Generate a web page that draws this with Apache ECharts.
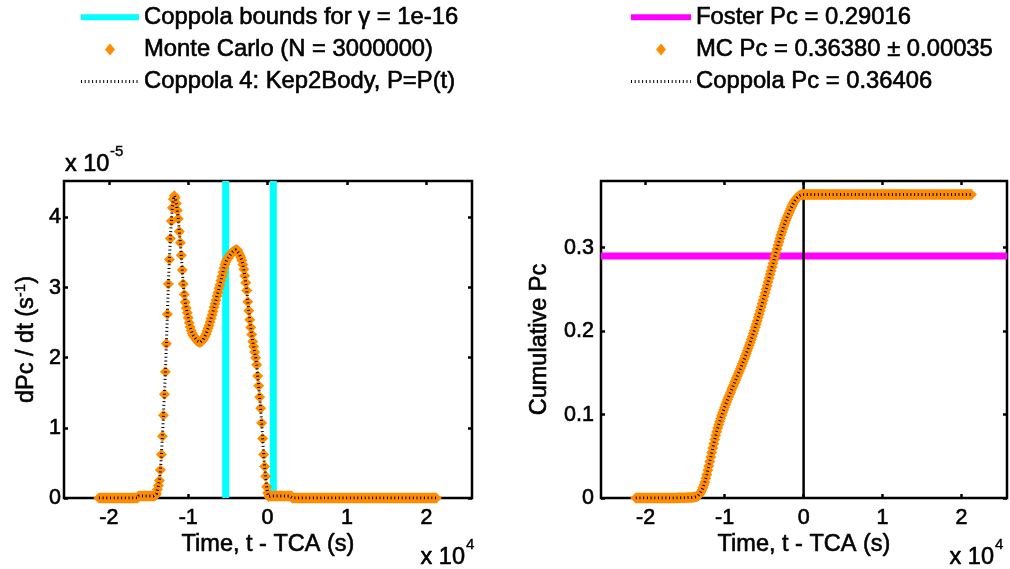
<!DOCTYPE html>
<html>
<head>
<meta charset="utf-8">
<title>Collision probability rate and cumulative Pc</title>
<script src="https://cdn.jsdelivr.net/npm/echarts@6/dist/echarts.min.js"></script>
<style>
  html, body { margin: 0; padding: 0; background: #fff; }
  #chart { width: 1010px; height: 569px; }
</style>
</head>
<body>
<div id="chart"></div>
<script>
// Time relative to TCA (s), one sample every 125 s
const timeSec = [
  -21250,-21125,-21000,-20875,-20750,-20625,-20500,-20375,-20250,-20125,
  -20000,-19875,-19750,-19625,-19500,-19375,-19250,-19125,-19000,-18875,
  -18750,-18625,-18500,-18375,-18250,-18125,-18000,-17875,-17750,-17625,
  -17500,-17375,-17250,-17125,-17000,-16875,-16750,-16625,-16500,-16375,
  -16250,-16125,-16000,-15875,-15750,-15625,-15500,-15375,-15250,-15125,
  -15000,-14875,-14750,-14625,-14500,-14375,-14250,-14125,-14000,-13875,
  -13750,-13625,-13500,-13375,-13250,-13125,-13000,-12875,-12750,-12625,
  -12500,-12375,-12250,-12125,-12000,-11875,-11750,-11625,-11500,-11375,
  -11250,-11125,-11000,-10875,-10750,-10625,-10500,-10375,-10250,-10125,
  -10000,-9875,-9750,-9625,-9500,-9375,-9250,-9125,-9000,-8875,
  -8750,-8625,-8500,-8375,-8250,-8125,-8000,-7875,-7750,-7625,
  -7500,-7375,-7250,-7125,-7000,-6875,-6750,-6625,-6500,-6375,
  -6250,-6125,-6000,-5875,-5750,-5625,-5500,-5375,-5250,-5125,
  -5000,-4875,-4750,-4625,-4500,-4375,-4250,-4125,-4000,-3875,
  -3750,-3625,-3500,-3375,-3250,-3125,-3000,-2875,-2750,-2625,
  -2500,-2375,-2250,-2125,-2000,-1875,-1750,-1625,-1500,-1375,
  -1250,-1125,-1000,-875,-750,-625,-500,-375,-250,-125,
  0,125,250,375,500,625,750,875,1000,1125,
  1250,1375,1500,1625,1750,1875,2000,2125,2250,2375,
  2500,2625,2750,2875,3000,3125,3250,3375,3500,3625,
  3750,3875,4000,4125,4250,4375,4500,4625,4750,4875,
  5000,5125,5250,5375,5500,5625,5750,5875,6000,6125,
  6250,6375,6500,6625,6750,6875,7000,7125,7250,7375,
  7500,7625,7750,7875,8000,8125,8250,8375,8500,8625,
  8750,8875,9000,9125,9250,9375,9500,9625,9750,9875,
  10000,10125,10250,10375,10500,10625,10750,10875,11000,11125,
  11250,11375,11500,11625,11750,11875,12000,12125,12250,12375,
  12500,12625,12750,12875,13000,13125,13250,13375,13500,13625,
  13750,13875,14000,14125,14250,14375,14500,14625,14750,14875,
  15000,15125,15250,15375,15500,15625,15750,15875,16000,16125,
  16250,16375,16500,16625,16750,16875,17000,17125,17250,17375,
  17500,17625,17750,17875,18000,18125,18250,18375,18500,18625,
  18750,18875,19000,19125,19250,19375,19500,19625,19750,19875,
  20000,20125,20250,20375,20500,20625,20750,20875,21000,21125,
  21250
];

// dPc/dt in units of 1e-5 per second
const dPcDt = [
  0,0,0,0,0,0,0,0,0,0,
  0,0,0,0,0,0,0,0,0,0,
  0,0,0,0,0,0,0,0,0,0,
  0,0,0,0,0,0,0,0,0,0,
  0.03,0.03,0.03,0.03,0.03,0.03,0.03,0.03,0.03,0.03,
  0.03,0.03,0.03,0.03,0.03,0.03,0.03,0.04,0.06,0.12,
  0.18,0.25,0.40,0.62,0.88,1.18,1.48,1.80,2.20,2.62,
  3.05,3.40,3.70,3.95,4.14,4.26,4.31,4.28,4.20,4.10,
  3.98,3.80,3.64,3.46,3.25,3.05,2.90,2.79,2.71,2.64,
  2.57,2.50,2.44,2.39,2.35,2.32,2.30,2.28,2.26,2.24,
  2.23,2.22,2.22,2.23,2.24,2.26,2.29,2.31,2.34,2.38,
  2.42,2.46,2.51,2.56,2.61,2.66,2.72,2.77,2.82,2.88,
  2.93,2.99,3.04,3.10,3.16,3.22,3.28,3.33,3.37,3.40,
  3.42,3.44,3.46,3.48,3.50,3.51,3.52,3.53,3.54,3.54,
  3.53,3.49,3.46,3.43,3.39,3.33,3.26,3.17,3.07,2.96,
  2.80,2.67,2.54,2.43,2.33,2.23,2.16,2.08,2.00,1.90,
  1.74,1.60,1.44,1.28,1.07,0.85,0.62,0.45,0.31,0.16,
  0.07,0.02,0.03,0.03,0.03,0.03,0.03,0.03,0.03,0.03,
  0.03,0.03,0.03,0.03,0.03,0.03,0.03,0.03,0.03,0.03,
  0.03,0.03,0.03,0.03,0.03,0,0,0,0,0,
  0,0,0,0,0,0,0,0,0,0,
  0,0,0,0,0,0,0,0,0,0,
  0,0,0,0,0,0,0,0,0,0,
  0,0,0,0,0,0,0,0,0,0,
  0,0,0,0,0,0,0,0,0,0,
  0,0,0,0,0,0,0,0,0,0,
  0,0,0,0,0,0,0,0,0,0,
  0,0,0,0,0,0,0,0,0,0,
  0,0,0,0,0,0,0,0,0,0,
  0,0,0,0,0,0,0,0,0,0,
  0,0,0,0,0,0,0,0,0,0,
  0,0,0,0,0,0,0,0,0,0,
  0,0,0,0,0,0,0,0,0,0,
  0,0,0,0,0,0,0,0,0,0,
  0
];

// Cumulative collision probability
const cumPc = [
  0,0,0,0,0,0,0,0,0,0,
  0,0,0,0,0,0,0,0,0,0,
  0,0,0,0,0,0,0,0,0,0,
  0,0,0,0,0,0,0,0,0,0,
  0,0.0001,0.0001,0.0002,0.0002,0.0002,0.0003,0.0003,0.0003,0.0004,
  0.0004,0.0004,0.0005,0.0005,0.0006,0.0006,0.0006,0.0007,0.0008,0.0009,
  0.0011,0.0014,0.0019,0.0027,0.0038,0.0053,0.0072,0.0094,0.0122,0.0155,
  0.0193,0.0236,0.0283,0.0332,0.0385,0.0438,0.0492,0.0546,0.0599,0.0651,
  0.0701,0.0749,0.0794,0.0838,0.0879,0.0917,0.0954,0.0989,0.1023,0.1056,
  0.1088,0.1120,0.1150,0.1180,0.1210,0.1239,0.1268,0.1297,0.1325,0.1353,
  0.1382,0.1409,0.1437,0.1465,0.1494,0.1522,0.1551,0.1580,0.1609,0.1639,
  0.1670,0.1701,0.1732,0.1764,0.1797,0.1831,0.1865,0.1900,0.1935,0.1972,
  0.2008,0.2046,0.2084,0.2123,0.2163,0.2203,0.2245,0.2287,0.2329,0.2372,
  0.2415,0.2458,0.2502,0.2545,0.2589,0.2634,0.2678,0.2722,0.2767,0.2811,
  0.2856,0.2900,0.2943,0.2986,0.3029,0.3071,0.3112,0.3152,0.3190,0.3228,
  0.3263,0.3296,0.3328,0.3359,0.3388,0.3416,0.3444,0.3470,0.3495,0.3519,
  0.3541,0.3561,0.3579,0.3595,0.3608,0.3619,0.3627,0.3633,0.3637,0.3638,
  0.3638,0.3638,0.3638,0.3638,0.3638,0.3638,0.3638,0.3638,0.3638,0.3638,
  0.3638,0.3638,0.3638,0.3638,0.3638,0.3638,0.3638,0.3638,0.3638,0.3638,
  0.3638,0.3638,0.3638,0.3638,0.3638,0.3638,0.3638,0.3638,0.3638,0.3638,
  0.3638,0.3638,0.3638,0.3638,0.3638,0.3638,0.3638,0.3638,0.3638,0.3638,
  0.3638,0.3638,0.3638,0.3638,0.3638,0.3638,0.3638,0.3638,0.3638,0.3638,
  0.3638,0.3638,0.3638,0.3638,0.3638,0.3638,0.3638,0.3638,0.3638,0.3638,
  0.3638,0.3638,0.3638,0.3638,0.3638,0.3638,0.3638,0.3638,0.3638,0.3638,
  0.3638,0.3638,0.3638,0.3638,0.3638,0.3638,0.3638,0.3638,0.3638,0.3638,
  0.3638,0.3638,0.3638,0.3638,0.3638,0.3638,0.3638,0.3638,0.3638,0.3638,
  0.3638,0.3638,0.3638,0.3638,0.3638,0.3638,0.3638,0.3638,0.3638,0.3638,
  0.3638,0.3638,0.3638,0.3638,0.3638,0.3638,0.3638,0.3638,0.3638,0.3638,
  0.3638,0.3638,0.3638,0.3638,0.3638,0.3638,0.3638,0.3638,0.3638,0.3638,
  0.3638,0.3638,0.3638,0.3638,0.3638,0.3638,0.3638,0.3638,0.3638,0.3638,
  0.3638,0.3638,0.3638,0.3638,0.3638,0.3638,0.3638,0.3638,0.3638,0.3638,
  0.3638,0.3638,0.3638,0.3638,0.3638,0.3638,0.3638,0.3638,0.3638,0.3638,
  0.3638,0.3638,0.3638,0.3638,0.3638,0.3638,0.3638,0.3638,0.3638,0.3638,
  0.3638,0.3638,0.3638,0.3638,0.3638,0.3638,0.3638,0.3638,0.3638,0.3638,
  0.3638
];

// Coppola integration bounds (s) and the Foster probability
const boundTimes = [-5280, 720];
const fosterPc = 0.29016;

// Tick positions and labels
const timeTicks = [-20000, -10000, 0, 10000, 20000];
const timeTickLabels = ['-2', '-1', '0', '1', '2'];
const rateTicks = [0, 1, 2, 3, 4];
const rateTickLabels = ['0', '1', '2', '3', '4'];
const cumTicks = [0, 0.1, 0.2, 0.3];
const cumTickLabels = ['0', '0.1', '0.2', '0.3'];

// Legend entries
const leftNames = ['Coppola bounds for \u03b3 = 1e-16', 'Monte Carlo (N = 3000000)', 'Coppola 4: Kep2Body, P=P(t)'];
const rightNames = ['Foster Pc = 0.29016', 'MC Pc = 0.36380 \u00b1 0.00035', 'Coppola Pc = 0.36406'];

const FONT = '"Liberation Sans", Arial, Helvetica, sans-serif';
const ORANGE = '#FF8C00';
const X_MIN = -25650, X_MAX = 25750;
const RATE_MAX = 4.52, CUM_MAX = 0.38;
const TICK_FONT = 21.5, TITLE_FONT = 23.5, LEGEND_FONT = 23.8;
const DIAMOND_ICON = 'path://M5 0L10 6L5 12L0 6Z';
const MARKER_SIZE = [11, 11];
const DOTTED = { color: '#000', width: 3, type: [1, 2.7] };
// slight stroke so the lettering carries the same weight as the plot frame
const INK = { color: '#000', textBorderColor: '#000', textBorderWidth: 0.6 };

const rateData = timeSec.map((t, i) => [t, dPcDt[i]]);
const cumData = timeSec.map((t, i) => [t, cumPc[i]]);

const tickStyle = { inside: true, length: 4, lineStyle: { color: '#000', width: 2.5 } };
const hiddenLine = { show: false, onZero: false };

function ink(style) { return Object.assign({ fontFamily: FONT }, INK, style); }

function timeAxes(gridIndex) {
  return [
    {
      type: 'value', gridIndex, position: 'bottom', min: X_MIN, max: X_MAX,
      axisLine: hiddenLine, splitLine: { show: false },
      axisTick: Object.assign({ customValues: timeTicks }, tickStyle),
      axisLabel: ink({
        customValues: timeTicks,
        formatter: v => timeTickLabels[timeTicks.indexOf(v)],
        fontSize: TICK_FONT, margin: 9
      }),
      name: 'Time, t - TCA (s)', nameLocation: 'middle', nameGap: 35, nameMoveOverlap: false,
      nameTextStyle: ink({ fontSize: TITLE_FONT })
    },
    {
      type: 'value', gridIndex, position: 'top', min: X_MIN, max: X_MAX,
      axisLine: hiddenLine, splitLine: { show: false }, axisLabel: { show: false },
      axisTick: Object.assign({ customValues: timeTicks }, tickStyle)
    }
  ];
}

function valueAxes(gridIndex, max, ticks, labels, labelMargin, name, nameGap, rich) {
  const nameStyle = ink({ fontSize: TITLE_FONT });
  if (rich) nameStyle.rich = rich;
  return [
    {
      type: 'value', gridIndex, position: 'left', min: 0, max,
      axisLine: hiddenLine, splitLine: { show: false },
      axisTick: Object.assign({ customValues: ticks }, tickStyle),
      axisLabel: ink({
        customValues: ticks,
        formatter: v => labels[ticks.indexOf(v)],
        fontSize: TICK_FONT, margin: labelMargin
      }),
      name, nameLocation: 'middle', nameGap, nameRotate: 90, nameMoveOverlap: false,
      nameTextStyle: nameStyle
    },
    {
      type: 'value', gridIndex, position: 'right', min: 0, max,
      axisLine: hiddenLine, splitLine: { show: false }, axisLabel: { show: false },
      axisTick: Object.assign({ customValues: ticks }, tickStyle)
    }
  ];
}

const supRich = {
  b: ink({ fontSize: TITLE_FONT, lineHeight: 26, verticalAlign: 'bottom' }),
  sup: ink({ fontSize: 15, lineHeight: 15, verticalAlign: 'top', padding: [0, 0, 12, 0], textBorderWidth: 0.4 })
};

function legendBlock(left, iconWidth, names, lineWidth) {
  return {
    left, top: 5, orient: 'vertical', padding: 0,
    itemWidth: iconWidth, itemHeight: 12, itemGap: 7.5, selectedMode: false,
    textStyle: ink({ fontSize: LEGEND_FONT, lineHeight: 24 }),
    data: [
      { name: names[0], lineStyle: { width: lineWidth }, itemStyle: { opacity: 0 } },
      { name: names[1], icon: DIAMOND_ICON },
      { name: names[2], lineStyle: { width: 3 }, itemStyle: { opacity: 0 } }
    ]
  };
}

function label(text, x, y, size, align) {
  return {
    type: 'text', x, y,
    style: { text, fontSize: size, fontFamily: FONT, fill: '#000', stroke: '#000',
             lineWidth: size > 16 ? 0.6 : 0.4, verticalAlign: 'middle', align }
  };
}

const chart = echarts.init(document.getElementById('chart'), null, { renderer: 'canvas' });

chart.setOption({
  animation: false,
  backgroundColor: '#fff',
  textStyle: { fontFamily: FONT, color: '#000' },
  grid: [
    { left: 64, top: 181, width: 408, height: 317, show: true, borderColor: '#000', borderWidth: 2.5,
      backgroundColor: 'transparent', containLabel: false, outerBoundsMode: 'none' },
    { left: 601, top: 181, width: 406, height: 317, show: true, borderColor: '#000', borderWidth: 2.5,
      backgroundColor: 'transparent', containLabel: false, outerBoundsMode: 'none' }
  ],
  xAxis: [].concat(timeAxes(0), timeAxes(1)),
  yAxis: [].concat(
    valueAxes(0, RATE_MAX, rateTicks, rateTickLabels, 3, '{b|dPc / dt (s}{sup|-1}{b|)}', 25, supRich),
    valueAxes(1, CUM_MAX, cumTicks, cumTickLabels, 7, 'Cumulative Pc', 49, null)
  ),
  legend: [
    legendBlock(78, 58, leftNames, 6),
    legendBlock(628, 60, rightNames, 6)
  ],
  graphic: [
    label('x 10', 65, 165, TITLE_FONT, 'left'),
    label('-5', 110, 152, 15, 'left'),
    label('x 10', 465, 558, TITLE_FONT, 'right'),
    label('4', 466, 545, 15, 'left'),
    label('x 10', 994, 558, TITLE_FONT, 'right'),
    label('4', 995, 545, 15, 'left')
  ],
  series: [
    // Coppola integration bounds
    ...boundTimes.map(t => ({
      type: 'line', name: leftNames[0], xAxisIndex: 0, yAxisIndex: 0,
      data: [[t, 0], [t, RATE_MAX]], symbol: 'none', silent: true, z: 2,
      lineStyle: { color: '#00FFFF', width: 7 }, itemStyle: { color: '#00FFFF' }
    })),
    {
      type: 'scatter', name: leftNames[1], xAxisIndex: 0, yAxisIndex: 0,
      data: rateData, symbol: 'diamond', symbolSize: MARKER_SIZE, silent: true, z: 3,
      itemStyle: { color: ORANGE, opacity: 1 }
    },
    {
      type: 'line', name: leftNames[2], xAxisIndex: 0, yAxisIndex: 0,
      data: rateData, symbol: 'none', silent: true, z: 4,
      lineStyle: DOTTED, itemStyle: { color: '#000' }
    },
    {
      type: 'line', name: rightNames[0], xAxisIndex: 2, yAxisIndex: 2,
      data: [[X_MIN, fosterPc], [X_MAX, fosterPc]], symbol: 'none', silent: true, z: 2,
      lineStyle: { color: '#FF00FF', width: 7 }, itemStyle: { color: '#FF00FF' }
    },
    {
      type: 'line', name: 'TCA', xAxisIndex: 2, yAxisIndex: 2,
      data: [[0, 0], [0, CUM_MAX]], symbol: 'none', silent: true, z: 2,
      lineStyle: { color: '#000', width: 2.5 }
    },
    {
      type: 'scatter', name: rightNames[1], xAxisIndex: 2, yAxisIndex: 2,
      data: cumData, symbol: 'diamond', symbolSize: MARKER_SIZE, silent: true, z: 3,
      itemStyle: { color: ORANGE, opacity: 1 }
    },
    {
      type: 'line', name: rightNames[2], xAxisIndex: 2, yAxisIndex: 2,
      data: cumData, symbol: 'none', silent: true, z: 4,
      lineStyle: DOTTED, itemStyle: { color: '#000' }
    }
  ]
});
</script>
</body>
</html>
